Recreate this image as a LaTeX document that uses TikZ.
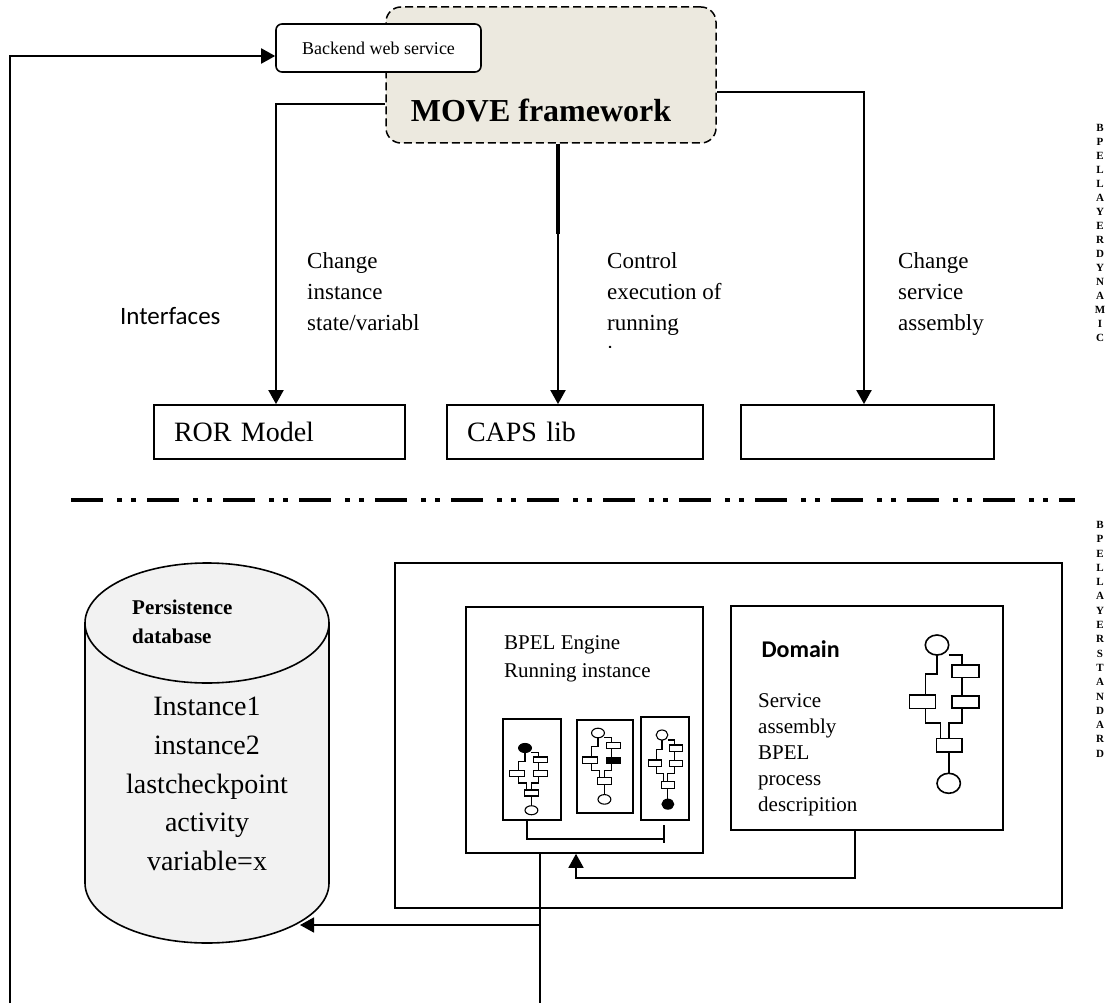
\documentclass[tikz,border=0pt]{standalone}
\usepackage{fontspec}
\setmainfont{Liberation Serif}
\newfontfamily\calibri{Carlito}
\usetikzlibrary{arrows.meta}
\definecolor{movebg}{HTML}{ECE9DF}
\definecolor{dbgray}{HTML}{F2F2F2}

\tikzset{box/.style = {draw, line width=1.8pt, minimum height=54pt, text width=#1, align=left,
                       inner xsep=20pt, font=\fontsize{28}{34}\selectfont},
         box/.default=213pt,
         lbl/.style = {anchor=north west, inner sep=0pt, align=left, font=\fontsize{23}{31}\selectfont},
         arr/.style = {line width=2pt, -{Triangle[length=14pt,width=15pt]}},
         frame/.style = {draw, line width=1.6pt, inner sep=0pt},
         pics/flow/.style n args = {3}{code = {
           \draw[fill=#1] (0,0) ellipse [x radius=11.7, y radius=10];
           \draw (11.7,10) -- (25,10) -- (25,20) (25,32.3) -- (25,50.7) (25,62.7) -- (25,77.7) -- (11.7,77.7) -- (11.7,93.3);
           \draw (0,10) -- (0,29) -- (-11.7,29) -- (-11.7,50) (-11.7,63.3) -- (-11.7,77.7) -- (3.3,77.7) -- (3.3,93.3);
           \draw (15,20) rectangle (41.7,32.3) (-27.4,50) rectangle (-1.7,63.3) (-0.7,93.3) rectangle (25,106.7);
           \draw[fill=#2] (15,50.7) rectangle (41.7,62.7);
           \draw (11.7,106.7) -- (11.7,128.3);
           \draw[fill=#3] (11.7,138.3) ellipse [x radius=11.7, y radius=10];
         }}
        }

\begin{document}
\begin{tikzpicture}[x=1pt, y=-1pt]
  \useasboundingbox (0,0) rectangle (1118,1003);

  \node[draw, line width=1.5pt, dash pattern=on 8pt off 4pt, rounded corners=15pt, fill=movebg,
        minimum width=330pt, minimum height=136pt] (move) at (551,75) {};
  \node[anchor=base, font=\fontsize{32}{38}\selectfont\bfseries] (movetxt) at (541,122) {MOVE framework};
  \node[draw, line width=1.6pt, rounded corners=6pt, fill=white, minimum width=205pt, minimum height=48pt,
        font=\fontsize{18}{22}\selectfont] (backend) at (378.5,48) {Backend web service};

  \node[box=211pt] (ror) at (279.5,432) {ROR Model};
  \node[box=216pt] (caps) at (575,432) {CAPS lib};
  \node[box=213pt] (svc) at (867.5,432) {};

  \coordinate (lb) at (10,1003);
  \draw[arr] (lb) |- ([yshift=-8pt]backend.west);
  \draw[arr] (move.west |- 0,104) -| (ror.north -| 276,0);
  \draw[line width=4pt] (move.south -| 558,0) -- ++(0,90);
  \draw[arr] (move.south -| 558,0) -- (caps.north -| 558,0);
  \draw[arr] (move.east |- 0,92) -| (svc.north -| 864,0);

  \node[anchor=base east, font=\calibri\fontsize{25}{30}\selectfont] (intf) at (224,324) {Interfaces};
  \node[lbl] (chg) at (307,252) {Change\\instance\\state/variabl};
  \begin{scope}
    \clip (600,240) rectangle (760,347);
    \node[lbl] (ctrl) at (607,252) {Control\\execution of\\running\\instance};
  \end{scope}
  \node[lbl] (asm) at (898,252) {Change\\service\\assembly};

  \draw[line width=4.5pt, dash pattern=on 32pt off 14pt on 5pt off 9pt on 5pt off 11pt] (71,500) -- (1075,500);

  \node[anchor=north, align=center, inner sep=0pt, font=\fontsize{11}{14}\selectfont\bfseries] (dyn) at (1100,124)
    {B\\P\\E\\L\\L\\A\\Y\\E\\R\\D\\Y\\N\\A\\M\\I\\C};
  \node[anchor=north, align=center, inner sep=0pt, font=\fontsize{11}{14.3}\selectfont\bfseries] (std) at (1100,521)
    {B\\P\\E\\L\\L\\A\\Y\\E\\R\\S\\T\\A\\N\\D\\A\\R\\D};

  \filldraw[fill=dbgray, line width=1.6pt] (85,623) -- (85,883) arc[start angle=180, end angle=360, x radius=122pt, y radius=60pt] -- (329,623) -- cycle;
  \filldraw[fill=dbgray, line width=1.6pt] (207,623) ellipse [x radius=122pt, y radius=60pt];
  \coordinate (db) at (300,925);
  \node[lbl, font=\fontsize{21}{29}\selectfont\bfseries] (dbname) at (132,600) {Persistence\\database};
  \node[anchor=north, align=center, inner sep=0pt, font=\fontsize{28}{38.7}\selectfont] (dbrows) at (207,697)
    {Instance1\\instance2\\lastcheckpoint\\activity\\variable=x};

  \node[frame, minimum width=667pt, minimum height=345pt] (sys) at (728.5,735.5) {};
  \node[frame, minimum width=237pt, minimum height=246pt] (engine) at (584.5,730) {};
  \node[frame, minimum width=272pt, minimum height=224pt] (domain) at (867,718) {};

  \node[lbl, font=\fontsize{21}{28}\selectfont] (engtxt) at (504,635) {BPEL Engine\\Running instance};
  \foreach \n/\x/\y/\w/\h in {1/532/769.5/58/101, 2/605/766.5/56/93, 3/665/768.5/48/103}
    \node[frame, line width=1.4pt, minimum width=\w pt, minimum height=\h pt] (inst\n) at (\x,\y) {};
  \pic[line width=1.1pt, xscale=.55, yscale=.45] at (525,748) {flow={black}{white}{white}};
  \pic[line width=1.1pt, xscale=.55, yscale=.48] at (598,733) {flow={white}{black}{white}};
  \pic[line width=1.1pt, xscale=.5, yscale=.5] at (662,735) {flow={white}{white}{black}};
  \draw[line width=1.4pt] (inst1.south -| 527,0) -- (527,839) -- (664,839);
  \draw[line width=1.4pt] (664,825) -- (664,843);

  \node[anchor=base west, font=\calibri\bfseries\fontsize{24}{28}\selectfont] (domtxt) at (758,657) {Domain};
  \node[lbl, font=\fontsize{21}{26}\selectfont] (domdesc) at (758,693) {Service\\assembly\\BPEL\\process\\descripition};
  \pic[line width=1.6pt] at (937,645) {flow={white}{white}{white}};

  \draw[arr, line width=1.6pt] (domain.south -| 855,0) |- (576,878) -- (engine.south -| 576,0);
  \draw[line width=1.6pt] (engine.south -| 540,0) -- (540,1003);
  \draw[arr, line width=1.6pt] (540,925) -- (db);
\end{tikzpicture}
\end{document}
